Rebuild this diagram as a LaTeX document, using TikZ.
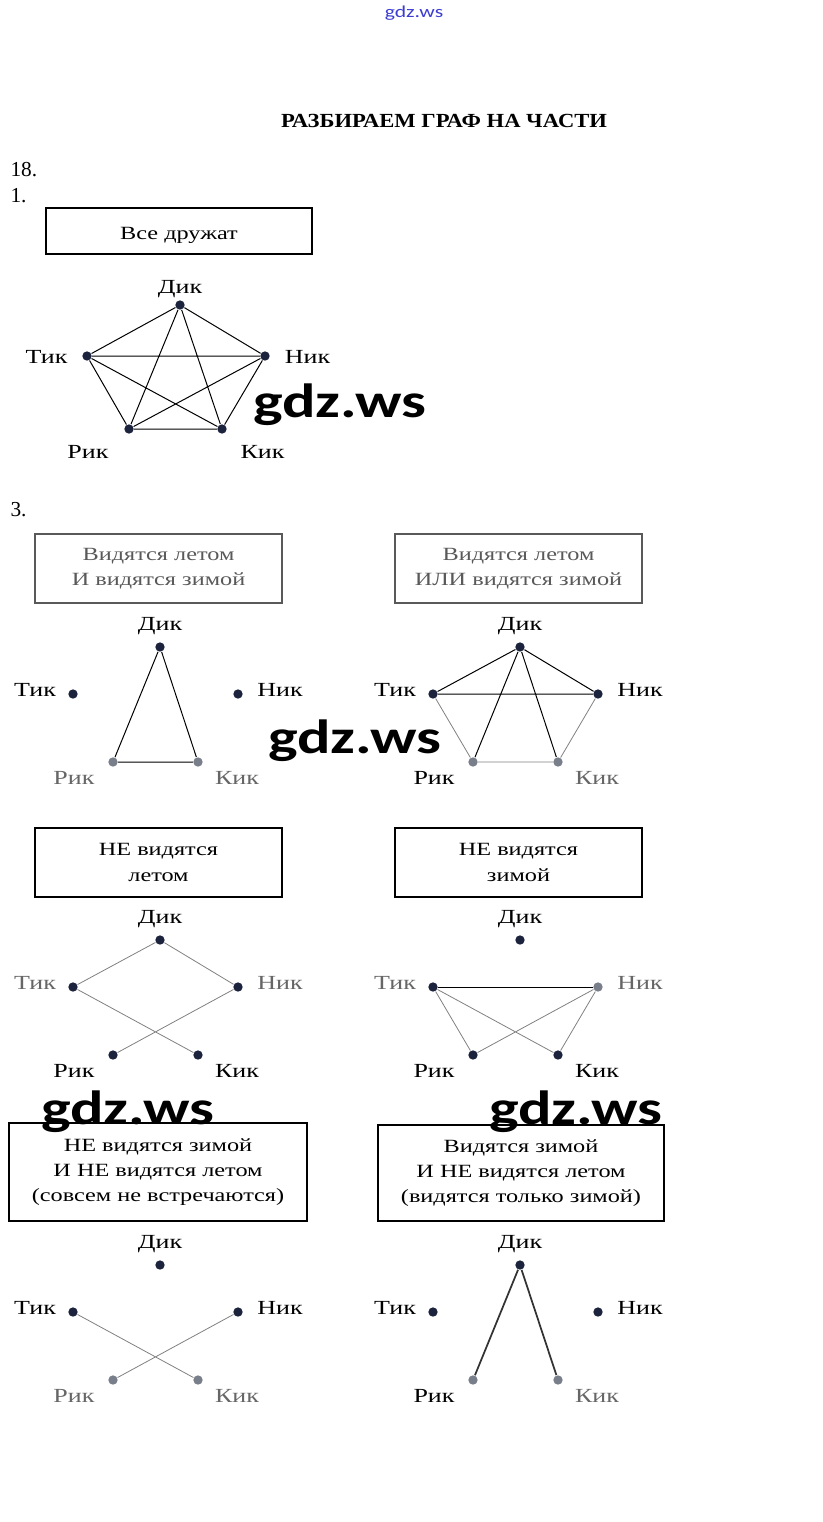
\documentclass[tikz,border=0pt]{standalone}
\usepackage{fontspec}
\setmainfont{Liberation Serif}[FakeStretch=1.3]
\newfontfamily\titlefont{Liberation Serif}[FakeStretch=1.13]
\newfontfamily\numfont{Liberation Serif}
\newfontfamily\wmfont{Carlito}[FakeStretch=1.3]

\definecolor{dotnavy}{RGB}{28,35,60}
\definecolor{dotgrey}{RGB}{120,126,138}
\definecolor{wmblue}{RGB}{60,60,210}

\tikzset{every picture/.style={line width=0.75pt}}
\tikzset{
  vertex/.style={circle, fill=dotnavy, inner sep=0pt, minimum size=7pt},
  greyvertex/.style={vertex, fill=dotgrey},
  lbl/.style={anchor=base, inner sep=0.75pt, font=\fontsize{15}{18}\selectfont},
  dimlbl/.style={lbl, text=black!60},
  capbox/.style={draw, line width=0.9pt, align=center, inner sep=0pt, font=\fontsize{14}{19}\selectfont},
  dimbox/.style={capbox, draw=black!65, text=black!65},
  link/.style={draw=black, line width=0.75pt},
  fadelink/.style={draw=black!50, line width=0.6pt},
  num/.style={anchor=base west, inner sep=0pt, font=\numfont\fontsize{16}{18}\selectfont},
  wm/.style={anchor=base, inner sep=0pt, font=\wmfont\bfseries\fontsize{36}{36}\selectfont},
}

\begin{document}
\begin{tikzpicture}[x=0.75pt,y=0.75pt,yscale=-1,xscale=1]
\useasboundingbox (0,0) rectangle (823,1522);

% Text Node
\node[anchor=base, inner sep=0pt, text=wmblue, font=\wmfont\fontsize{12.5}{14}\selectfont] (site) at (414,17) {gdz.ws};
% Text Node
\node[anchor=base, inner sep=0.75pt, font=\titlefont\bfseries\fontsize{15}{18}\selectfont] (title) at (444,127) {РАЗБИРАЕМ ГРАФ НА ЧАСТИ};
% Text Node
\node[num] (num18) at (10,176) {18.};
\node[num] (num1) at (10,202) {1.};
\node[num] (num3) at (10,516) {3.};

%Box: all friends
\node[capbox, minimum width=199.5pt, minimum height=34.5pt] (box1) at (179,231) {\raisebox{-3.5pt}[\height][\depth]{Все дружат}};
%Graph: all friends
\node[vertex] (g1d) at (180,305) {};
\node[vertex] (g1t) at (87,356) {};
\node[vertex] (g1n) at (265,356) {};
\node[vertex] (g1r) at (129,429) {};
\node[vertex] (g1k) at (222,429) {};
\node[lbl] (g1dl) at (180,293) {Дик};
\node[lbl] (g1tl) at (46.5,363) {Тик};
\node[lbl] (g1nl) at (307.5,363) {Ник};
\node[lbl] (g1rl) at (88,458) {Рик};
\node[lbl] (g1kl) at (262.5,458) {Кик};
\draw[link] (g1d) -- (g1t) (g1d) -- (g1n) (g1d) -- (g1r) (g1d) -- (g1k)
  (g1t) -- (g1n) (g1t) -- (g1r) (g1t) -- (g1k)
  (g1n) -- (g1r) (g1n) -- (g1k) (g1r) -- (g1k);

%Box: summer and winter
\node[dimbox, minimum width=185.25pt, minimum height=51.75pt] (box2) at (158.5,568.5) {Видятся летом\\И видятся зимой};
%Graph: summer and winter
\begin{scope}[shift={(160,647)}]
  \node[vertex] (g2d) at (0,0) {};
  \node[vertex] (g2t) at (-87,47) {};
  \node[vertex] (g2n) at (78,47) {};
  \node[greyvertex] (g2r) at (-47,115) {};
  \node[greyvertex] (g2k) at (38,115) {};
  \node[lbl] (g2dl) at (0,-17) {Дик};
  \node[lbl] (g2tl) at (-125,49) {Тик};
  \node[lbl] (g2nl) at (120,49) {Ник};
  \node[dimlbl] (g2rl) at (-86,137) {Рик};
  \node[dimlbl] (g2kl) at (77,137) {Кик};
\end{scope}
\draw[link] (g2d) -- (g2r) (g2d) -- (g2k) (g2r) -- (g2k);

%Box: summer or winter
\node[dimbox, minimum width=185.25pt, minimum height=51.75pt] (box3) at (518.5,568.5) {Видятся летом\\ИЛИ видятся зимой};
%Graph: summer or winter
\begin{scope}[shift={(520,647)}]
  \node[vertex] (g3d) at (0,0) {};
  \node[vertex] (g3t) at (-87,47) {};
  \node[vertex] (g3n) at (78,47) {};
  \node[greyvertex] (g3r) at (-47,115) {};
  \node[greyvertex] (g3k) at (38,115) {};
  \node[lbl] (g3dl) at (0,-17) {Дик};
  \node[lbl] (g3tl) at (-125,49) {Тик};
  \node[lbl] (g3nl) at (120,49) {Ник};
  \node[lbl] (g3rl) at (-86,137) {Рик};
  \node[dimlbl] (g3kl) at (77,137) {Кик};
\end{scope}
\draw[link] (g3d) -- (g3t) (g3d) -- (g3n) (g3t) -- (g3n) (g3d) -- (g3r) (g3d) -- (g3k);
\draw[fadelink] (g3t) -- (g3r) (g3n) -- (g3k) (g3r) -- (g3k);

%Box: not in summer
\node[capbox, minimum width=185.25pt, minimum height=51.75pt] (box4) at (158.5,862.5) {НЕ видятся\\летом};
%Graph: not in summer
\begin{scope}[shift={(160,940)}]
  \node[vertex] (g4d) at (0,0) {};
  \node[vertex] (g4t) at (-87,47) {};
  \node[vertex] (g4n) at (78,47) {};
  \node[vertex] (g4r) at (-47,115) {};
  \node[vertex] (g4k) at (38,115) {};
  \node[lbl] (g4dl) at (0,-17) {Дик};
  \node[dimlbl] (g4tl) at (-125,49) {Тик};
  \node[dimlbl] (g4nl) at (120,49) {Ник};
  \node[lbl] (g4rl) at (-86,137) {Рик};
  \node[lbl] (g4kl) at (77,137) {Кик};
\end{scope}
\draw[fadelink] (g4d) -- (g4t) (g4d) -- (g4n) (g4t) -- (g4k) (g4n) -- (g4r);

%Box: not in winter
\node[capbox, minimum width=185.25pt, minimum height=51.75pt] (box5) at (518.5,862.5) {НЕ видятся\\зимой};
%Graph: not in winter
\begin{scope}[shift={(520,940)}]
  \node[vertex] (g5d) at (0,0) {};
  \node[vertex] (g5t) at (-87,47) {};
  \node[greyvertex] (g5n) at (78,47) {};
  \node[vertex] (g5r) at (-47,115) {};
  \node[vertex] (g5k) at (38,115) {};
  \node[lbl] (g5dl) at (0,-17) {Дик};
  \node[dimlbl] (g5tl) at (-125,49) {Тик};
  \node[dimlbl] (g5nl) at (120,49) {Ник};
  \node[lbl] (g5rl) at (-86,137) {Рик};
  \node[lbl] (g5kl) at (77,137) {Кик};
\end{scope}
\draw[link] (g5t) -- (g5n);
\draw[fadelink] (g5t) -- (g5r) (g5t) -- (g5k) (g5n) -- (g5r) (g5n) -- (g5k);

%Box: never meet
\node[capbox, minimum width=223.5pt, minimum height=73.5pt] (box6) at (158,1172) {НЕ видятся зимой\\И НЕ видятся летом\\(совсем не встречаются)};
%Graph: never meet
\begin{scope}[shift={(160,1265)}]
  \node[vertex] (g6d) at (0,0) {};
  \node[vertex] (g6t) at (-87,47) {};
  \node[vertex] (g6n) at (78,47) {};
  \node[greyvertex] (g6r) at (-47,115) {};
  \node[greyvertex] (g6k) at (38,115) {};
  \node[lbl] (g6dl) at (0,-17) {Дик};
  \node[lbl] (g6tl) at (-125,49) {Тик};
  \node[lbl] (g6nl) at (120,49) {Ник};
  \node[dimlbl] (g6rl) at (-86,137) {Рик};
  \node[dimlbl] (g6kl) at (77,137) {Кик};
\end{scope}
\draw[fadelink] (g6t) -- (g6k) (g6n) -- (g6r);

%Box: winter only
\node[capbox, minimum width=214.5pt, minimum height=72pt] (box7) at (521,1173) {Видятся зимой\\И НЕ видятся летом\\(видятся только зимой)};
%Graph: winter only
\begin{scope}[shift={(520,1265)}]
  \node[vertex] (g7d) at (0,0) {};
  \node[vertex] (g7t) at (-87,47) {};
  \node[vertex] (g7n) at (78,47) {};
  \node[greyvertex] (g7r) at (-47,115) {};
  \node[greyvertex] (g7k) at (38,115) {};
  \node[lbl] (g7dl) at (0,-17) {Дик};
  \node[lbl] (g7tl) at (-125,49) {Тик};
  \node[lbl] (g7nl) at (120,49) {Ник};
  \node[lbl] (g7rl) at (-86,137) {Рик};
  \node[dimlbl] (g7kl) at (77,137) {Кик};
\end{scope}
\draw[link, line width=1.3pt, draw=black!80] (g7d) -- (g7r) (g7d) -- (g7k);

% Watermarks
\node[wm] (wm1) at (340,417) {gdz.ws};
\node[wm] (wm2) at (355,753) {gdz.ws};
\node[wm] (wm3) at (128,1124) {gdz.ws};
\node[wm] (wm4) at (576,1124) {gdz.ws};

\end{tikzpicture}
\end{document}
